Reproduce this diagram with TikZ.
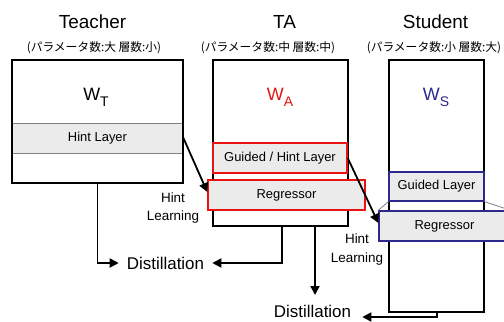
\documentclass[tikz,border=0pt]{standalone}
\usepackage{fontspec}
\setmainfont{Liberation Sans}
\newfontfamily\jpfont{Noto Sans CJK JP}
\usetikzlibrary{arrows.meta}
\definecolor{lyrgray}{RGB}{235,235,235}
\definecolor{navyblue}{RGB}{45,40,140}
\definecolor{tared}{RGB}{232,20,20}
\begin{document}
\begin{tikzpicture}[x=1bp,y=-1bp,
  box/.style={draw=black, line width=1.8bp, inner sep=0pt},
  layer/.style={fill=lyrgray, inner sep=0pt, line width=1.4bp, font=\fontsize{13}{15}\selectfont},
  titletext/.style={font=\fontsize{19}{22}\selectfont},
  subtext/.style={font=\jpfont\fontsize{11.8}{13}\selectfont},
  wtext/.style={font=\fontsize{18}{20}\selectfont},
  conn/.style={line width=1.8bp, -{Triangle[length=9bp,width=9bp]}},
  lbl/.style={font=\fontsize{13.5}{19}\selectfont, align=center, inner sep=0pt},
  disttext/.style={font=\fontsize{17}{20}\selectfont, inner ysep=0pt}]
\useasboundingbox (0,0) rectangle (504,321);
\clip (0,0) rectangle (504,321);

% titles
\node[titletext] (tteach) at (92.5,22) {Teacher};
\node[titletext] (tta) at (284.5,22) {TA};
\node[titletext] (tstu) at (435.5,22) {Student};
\node[subtext] (steach) at (94,48) {(パラメータ数:大 層数:小)};
\node[subtext] (sta) at (268,48) {(パラメータ数:中 層数:中)};
\node[subtext] (sstu) at (434,48) {(パラメータ数:小 層数:大)};

% teacher
\node[layer, draw=gray, line width=0.8bp, minimum width=171bp, minimum height=30bp] (thint) at (97.5,138) {Hint Layer};
\node[box, minimum width=171bp, minimum height=123bp] (teacher) at (97.5,121.5) {};
\node[wtext] (wt) at (96,97) {W\raisebox{-6bp}{\fontsize{14}{14}\selectfont T}};

% TA
\node[box, fill=white, minimum width=135bp, minimum height=166bp] (ta) at (280.5,143) {};
\node[layer, draw=tared, minimum width=134bp, minimum height=30bp] (tagl) at (280,158) {Guided / Hint Layer};
\node[layer, draw=tared, minimum width=157bp, minimum height=30bp] (tareg) at (286.5,195) {Regressor};
\node[wtext, text=tared] (wa) at (280,97) {W\raisebox{-6bp}{\fontsize{14}{14}\selectfont A}};

% Student
\node[box, fill=white, minimum width=95bp, minimum height=252bp] (st) at (436.5,186) {};
\node[layer, draw=navyblue, minimum width=95bp, minimum height=29bp] (sgl) at (436.5,186.5) {Guided Layer};
\node[layer, draw=navyblue, minimum width=131bp, minimum height=30bp] (sreg) at (444.5,226) {Regressor};
\draw[gray, line width=0.8bp] (sgl.south west) -- (sreg.north west);
\draw[gray, line width=0.8bp] (sgl.south east) -- (sreg.north east);
\node[wtext, text=navyblue] (ws) at (436,97) {W\raisebox{-6bp}{\fontsize{14}{14}\selectfont S}};

% hint learning
\draw[conn] (thint.east) -- ([yshift=3bp]tareg.west);
\draw[conn] (tagl.east) -- ([yshift=3bp]sreg.west);
\node[lbl] (hl1) at (173,208) {Hint\\Learning};
\node[lbl] (hl2) at (357,249.5) {Hint\\Learning};

% distillation
\node[disttext, inner xsep=8bp] (d1) at (165.5,263) {Distillation};
\node[disttext, inner xsep=11bp, anchor=base] (d2) at (312.5,317) {Distillation};
\coordinate (a3) at (315,295);
\coordinate (s4) at (437,317);
\draw[conn] (teacher.south) |- (d1.west);
\draw[conn] ([xshift=1.5bp]ta.south) |- (d1.east);
\draw[conn] ([xshift=34.5bp]ta.south) -- (a3);
\draw[conn] ([xshift=0.5bp]st.south) -- (s4) -- (s4 -| d2.east);
\end{tikzpicture}
\end{document}
